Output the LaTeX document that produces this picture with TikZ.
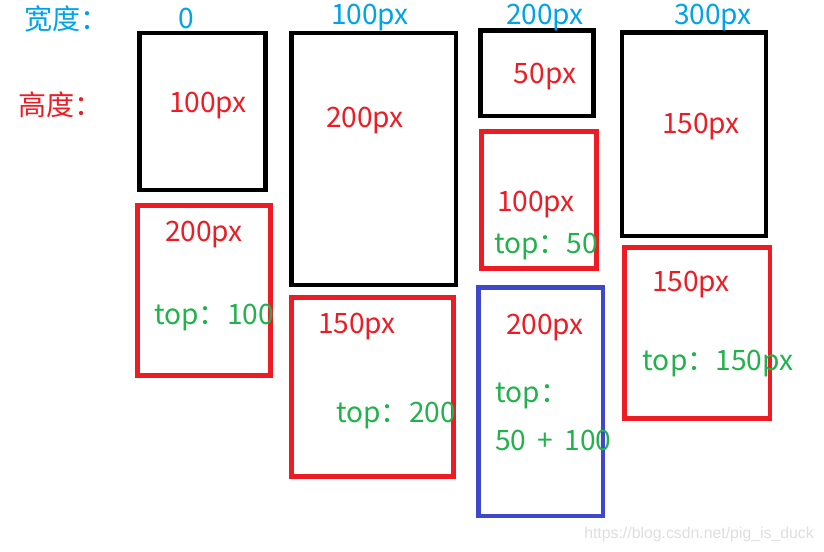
\documentclass[tikz,border=0pt]{standalone}
\usepackage{fontspec}
\setmainfont{Noto Sans CJK SC}
\newfontfamily\urlfont{Liberation Sans}
\usetikzlibrary{positioning}
\definecolor{paintred}{RGB}{237,28,36}
\definecolor{paintblue}{RGB}{63,72,204}
\definecolor{paintgreen}{RGB}{34,177,76}
\definecolor{paintcyan}{RGB}{0,162,232}

\begin{document}
\begin{tikzpicture}[x=0.02cm, y=-0.02cm,
                    frame/.style= {line width=2.5pt},
                    oldbox/.style= {frame,
                      draw=black},
                    newbox/.style= {frame,
                      draw=paintred},
                    sumbox/.style= {frame,
                      draw=paintblue},
                    txt/.style= {inner sep=0pt,
                      font=\fontsize{16}{19}\selectfont},
                    widthtxt/.style= {txt,
                      text=paintcyan},
                    heighttxt/.style= {txt,
                      text=paintred},
                    toptxt/.style= {txt,
                      text=paintgreen}]

  \useasboundingbox (0,0) rectangle (824,551);

  \draw[oldbox] (139.5,33) rectangle (265.5,190);
  \draw[oldbox] (291.5,33) rectangle (456,285);
  \draw[oldbox] (480.5,30.5) rectangle (593.5,116);
  \draw[oldbox] (622,32.5) rectangle (766,236);
  \draw[newbox] (137.5,205.5) rectangle (270.5,375.5);
  \draw[newbox] (291.5,297.5) rectangle (453.5,476.5);
  \draw[newbox] (481.5,131.5) rectangle (596.5,268.5);
  \draw[newbox] (624.5,247.5) rectangle (770,418.5);
  \draw[sumbox] (478.5,287.5) rectangle (603,516);

  \node[widthtxt, anchor=west] (w) at (24,19) {宽度：};
  \node[widthtxt] (w1) at (186,18) {0};
  \node[widthtxt] (w2) at (370,18) {100px};
  \node[widthtxt] (w3) at (545,18) {200px};
  \node[widthtxt] (w4) at (713,18) {300px};
  \node[heighttxt, anchor=west] (h) at (18,105) {高度：};

  \node[heighttxt] (1) at (208,106) {100px};
  \node[heighttxt] (2) at (365,121) {200px};
  \node[heighttxt] (3) at (545,77) {50px};
  \node[heighttxt] (4) at (701,127) {150px};
  \node[heighttxt] (5) at (204,235) {200px};
  \node[toptxt] (t5) at (214,318) {top：100};
  \node[heighttxt] (6) at (357,327) {150px};
  \node[toptxt] (t6) at (396,416) {top：200};
  \node[heighttxt] (7) at (536,205) {100px};
  \node[toptxt] (t7) at (546,247) {top：50};
  \node[heighttxt] (8) at (545,328) {200px};
  \node[toptxt, anchor=west] (t8) at (495,396) {top：};
  \node[toptxt, anchor=west] (t8b) at (495,440) {50\hspace{0.4em}+\hspace{0.4em}100};
  \node[heighttxt] (9) at (691,285) {150px};
  \node[toptxt] (t9) at (718,364) {top：150px};

  \node[inner sep=0pt, text=black!13, font=\urlfont\fontsize{9}{11}\selectfont]
    (url) at (699,534) {https://blog.csdn.net/pig\_is\_duck};
\end{tikzpicture}
\end{document}
